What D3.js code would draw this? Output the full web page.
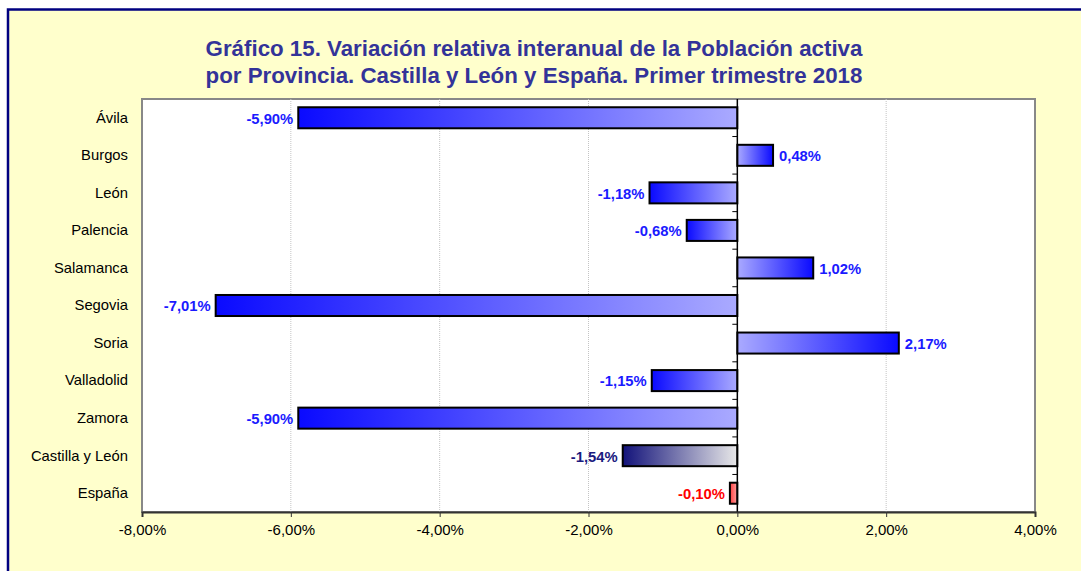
<!DOCTYPE html>
<html><head><meta charset="utf-8">
<script src="https://cdn.jsdelivr.net/npm/d3@7"></script>
<style>body{margin:0;background:#fff}svg{display:block;font-family:"Liberation Sans",Arial,sans-serif}</style>
</head><body><svg id="c" width="1081" height="571"></svg>
<script>
const categories = ["Ávila","Burgos","León","Palencia","Salamanca","Segovia","Soria","Valladolid","Zamora","Castilla y León","España"];
const values = [-5.90, 0.48, -1.18, -0.68, 1.02, -7.01, 2.17, -1.15, -5.90, -1.54, -0.10];
const groups = ["prov","prov","prov","prov","prov","prov","prov","prov","prov","cyl","esp"];
const xTicks = [-8,-6,-4,-2,0,2,4];
const titleLines = ["Gráfico 15. Variación relativa interanual de la Población activa","por Provincia. Castilla y León y España. Primer trimestre 2018"];

const palette = {
  prov: {dark:"#0a0aff", light:"#aaaaff", text:"#1a1aff"},
  cyl:  {dark:"#12127a", light:"#e8e8e8", text:"#1a1a80"},
  esp:  {dark:"#ff4040", light:"#ffa0a0", text:"#ff0000"}
};

const svg = d3.select("#c");
svg.append("rect").attr("x",8).attr("y",9.5).attr("width",1100).attr("height",600)
  .attr("fill","#ffffcc").attr("stroke","#000080").attr("stroke-width",2.5);

const m = {l:142, r:1035, t:99, b:512};
const x = d3.scaleLinear().domain([-8,4]).range([m.l,m.r]);
const y = d3.scaleBand().domain(categories).range([m.t,m.b]).paddingInner(0.44).paddingOuter(0.22);
const yb = d3.scaleBand().domain(categories).range([m.t,m.b]);

svg.append("rect").attr("x",m.l).attr("y",m.t).attr("width",m.r-m.l).attr("height",m.b-m.t)
  .attr("fill","#fff").attr("stroke","#888").attr("stroke-width",2);

// grid
svg.append("g").selectAll("line").data(xTicks.filter(d=>d!==0 && d!==-8 && d!==4)).join("line")
  .attr("x1",d=>x(d)).attr("x2",d=>x(d)).attr("y1",m.t).attr("y2",m.b)
  .attr("stroke","#c4c4c4").attr("stroke-width",1).attr("stroke-dasharray","1,1");

// title
const t = svg.append("text").attr("text-anchor","middle").attr("fill","#333399")
  .attr("font-weight","bold").attr("font-size","22.3px");
titleLines.forEach((l,i)=>t.append("tspan").attr("x",534).attr("y",56+i*27).text(l));

// gradients
const defs = svg.append("defs");
categories.forEach((c,i)=>{
  const p = palette[groups[i]];
  const g = defs.append("linearGradient").attr("id","g"+i).attr("x1","0%").attr("x2","100%").attr("y1","0%").attr("y2","0%");
  const neg = values[i] < 0;
  g.append("stop").attr("offset","0%").attr("stop-color", neg ? p.dark : p.light);
  g.append("stop").attr("offset","100%").attr("stop-color", neg ? p.light : p.dark);
});

// bars
svg.append("g").selectAll("rect").data(values).join("rect")
  .attr("x",d=>x(Math.min(0,d))).attr("width",d=>Math.abs(x(d)-x(0)))
  .attr("y",(d,i)=>y(categories[i])).attr("height",y.bandwidth())
  .attr("fill",(d,i)=>`url(#g${i})`).attr("stroke","#000").attr("stroke-width",2);

// value labels
const fmt = v => d3.format(".2f")(v).replace(".",",").replace("−","-") + "%";
svg.append("g").selectAll("text").data(values).join("text")
  .attr("x",d=> d<0 ? x(d)-5 : x(d)+6)
  .attr("y",(d,i)=>yb(categories[i])+yb.bandwidth()/2+2)
  .attr("text-anchor",d=>d<0?"end":"start").attr("dominant-baseline","middle")
  .attr("font-weight","bold").attr("font-size","14.8px")
  .attr("fill",(d,i)=>palette[groups[i]].text)
  .text(d=>fmt(d));

// zero axis
const za = svg.append("g").attr("transform",`translate(${x(0)},0)`);
za.append("line").attr("y1",m.t).attr("y2",m.b).attr("stroke","#000").attr("stroke-width",1.5);
za.selectAll("line.t").data(d3.range(1,categories.length)).join("line").attr("class","t")
  .attr("x1",-5).attr("x2",0).attr("y1",i=>m.t+i*yb.step()).attr("y2",i=>m.t+i*yb.step())
  .attr("stroke","#000").attr("stroke-width",1);

// bottom axis
const xa = d3.axisBottom(x).tickValues(xTicks).tickSize(5).tickPadding(7)
  .tickFormat(d=>fmt(d));
const gx = svg.append("g").attr("transform",`translate(0,${m.b})`).call(xa);
gx.select(".domain").attr("stroke","#333").attr("stroke-width",2);
gx.selectAll(".tick line").attr("stroke","#333");
gx.selectAll("text").attr("font-size","15px").attr("fill","#000").attr("font-family","'Liberation Sans',Arial,sans-serif");

// category labels
svg.append("g").selectAll("text").data(categories).join("text")
  .attr("x",128).attr("y",d=>yb(d)+yb.bandwidth()/2+1)
  .attr("text-anchor","end").attr("dominant-baseline","middle")
  .attr("font-size","14.8px").attr("fill","#000").text(d=>d);
</script></body></html>
